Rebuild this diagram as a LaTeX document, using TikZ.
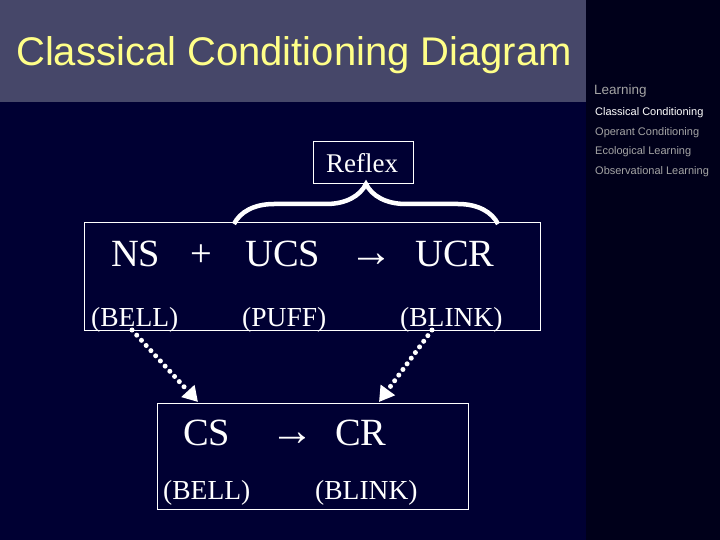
\documentclass[tikz,border=0pt]{standalone}
\usepackage{fontspec}
\setmainfont{Liberation Serif}
\newfontfamily\sidefont{Liberation Sans}
\usetikzlibrary{arrows.meta,decorations.pathreplacing}
\definecolor{slidebg}{HTML}{000033}
\definecolor{titleband}{HTML}{464769}
\definecolor{sidepanel}{HTML}{00001A}
\definecolor{titleyellow}{HTML}{FFFF88}
\definecolor{sidegray}{HTML}{A4A4A4}
\begin{document}
\begin{tikzpicture}[x=1pt, y=-1pt,
    big/.style={anchor=base west, text=white, inner sep=0pt, font=\fontsize{38.5}{40}\selectfont},
    small/.style={anchor=base west, text=white, inner sep=0pt, font=\fontsize{27.5}{30}\selectfont},
    side/.style={anchor=base west, text=sidegray, inner sep=0pt, font=\sidefont\fontsize{11}{12}\selectfont},
    frame/.style={draw=white, line width=1pt},
    link/.style={white, line width=5pt, line cap=round, dash pattern=on 0pt off 7pt,
      -{Triangle[length=15pt,width=17pt]}}]
  \useasboundingbox (0,0) rectangle (720,540);
  % slide background
  \fill[slidebg] (0,0) rectangle (720,540);
  \fill[titleband] (0,0) rectangle (586,102);
  \fill[sidepanel] (586,0) rectangle (720,540);
  \node[anchor=base west, inner sep=0pt, text=titleyellow, font=\sidefont\fontsize{40}{44}\selectfont]
    (title) at (16,66) {Classical Conditioning Diagram};
  % side menu
  \node[side, font=\sidefont\fontsize{13.5}{15}\selectfont] (mlearn) at (594,95) {Learning};
  \node[side, text=white] (mclass) at (595,116) {Classical Conditioning};
  \node[side] (moper) at (595,135.5) {Operant Conditioning};
  \node[side] (meco) at (595,155) {Ecological Learning};
  \node[side] (mobs) at (595,175) {Observational Learning};
  % reflex
  \draw[frame] (313,142) rectangle (413,184);
  \node[small, font=\fontsize{27}{30}\selectfont] (reflex) at (326,173) {Reflex};
  \draw[white, line width=4.5pt, decorate, decoration={brace, amplitude=40pt}] (234,224) -- (498,224);
  % unconditioned row
  \draw[frame] (84,223) rectangle (540,330);
  \node[big] (ns) at (111,266) {NS};
  \node[big] (plus) at (190,266) {+};
  \node[big] (ucs) at (245,266) {UCS};
  \node[big, font=\fontsize{44}{44}\selectfont] (arrA) at (349,266) {→};
  \node[big] (ucr) at (415,266) {UCR};
  \node[small] (bellA) at (91,326) {(BELL)};
  \node[small] (puff) at (242,326) {(PUFF)};
  \node[small] (blinkA) at (400,326) {(BLINK)};
  % conditioned row
  \draw[frame] (157,403) rectangle (468,509);
  \node[big] (cs) at (183,445) {CS};
  \node[big, font=\fontsize{44}{44}\selectfont] (arrB) at (270,445) {→};
  \node[big] (cr) at (335,445) {CR};
  \node[small] (bellB) at (163,499) {(BELL)};
  \node[small] (blinkB) at (315,499) {(BLINK)};
  % links
  \coordinate (fromBell) at (132,330);
  \coordinate (toCS) at (198,402);
  \coordinate (fromBlink) at (432,330);
  \coordinate (toCR) at (379,402);
  \draw[link] (fromBell) -- (toCS);
  \draw[link] (fromBlink) -- (toCR);
\end{tikzpicture}
\end{document}
